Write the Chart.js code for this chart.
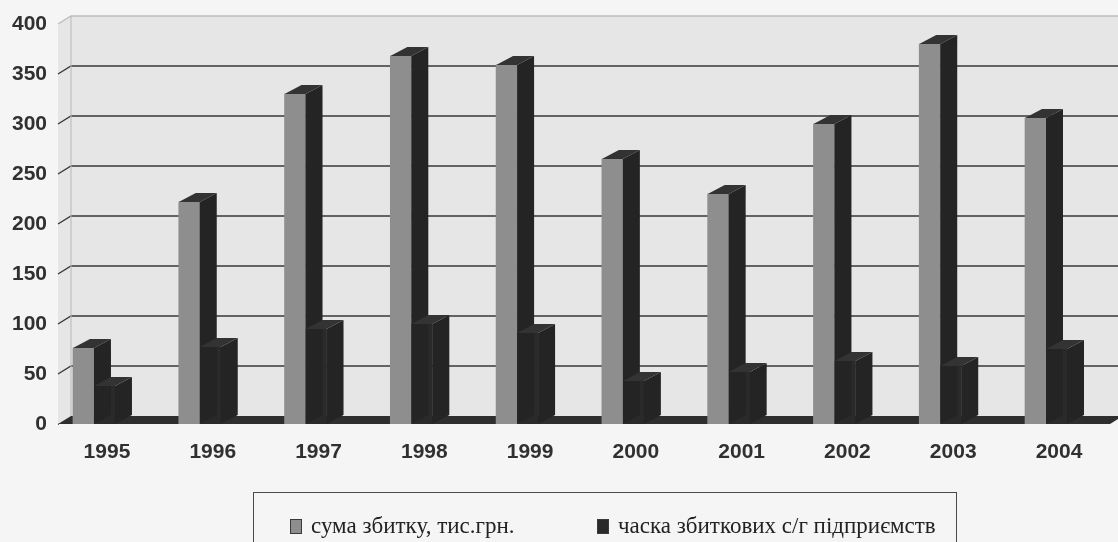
<!DOCTYPE html>
<html lang="uk">
<head>
<meta charset="utf-8">
<title>Збитки с/г підприємств, 1995-2004</title>
<script src="https://cdn.jsdelivr.net/npm/chart.js@4.4.1/dist/chart.umd.min.js"></script>
<style>
  body { margin: 0; background: #f5f5f5; overflow: hidden; }
  #quadro { position: relative; width: 1118px; height: 542px; }
  #grafico { position: absolute; left: 0; top: 0; }
  #legenda {
    position: absolute; left: 253px; top: 492px; width: 704px; height: 80px;
    border: 1px solid #4a4a4a; box-sizing: border-box;
  }
  .item_legenda {
    position: absolute; top: 20px; display: flex; align-items: center;
    font: 23px "Liberation Serif", serif; color: #222; line-height: 26px; white-space: nowrap;
  }
  .item_legenda:nth-child(1) { left: 36px; }
  .item_legenda:nth-child(2) { left: 343px; }
  .caixa_cor { width: 12px; height: 15px; margin-right: 9px; box-sizing: border-box; }
</style>
</head>
<body>
<div id="quadro">
  <canvas id="grafico" width="1118" height="542"></canvas>
  <div id="legenda"></div>
</div>
<script>
// dados
const anos = ["1995", "1996", "1997", "1998", "1999", "2000", "2001", "2002", "2003", "2004"];
const sumaZbytku = [76, 222, 330, 368, 359, 265, 230, 300, 380, 306];
const chastkaZbytkovykh = [38, 77, 95, 100, 91, 43, 52, 63, 58, 75];
const marcasY = [0, 50, 100, 150, 200, 250, 300, 350, 400];

const nomeSerie1 = "сума збитку, тис.грн.";
const nomeSerie2 = "часка збиткових с/г підприємств";

//profundidade do efeito 3D
const PROF_X = 13, PROF_Y = 8;
const BARRA_X = 17, BARRA_Y = 9;

//paredes, chão e linhas de grade em perspectiva
const cena3d = {
  id: "cena3d",
  beforeDatasetsDraw(chart) {
    const { ctx, chartArea } = chart;
    const { left, right, bottom } = chartArea;
    const y = chart.scales.y;
    const topo = y.getPixelForValue(400);

    ctx.save();
    //parede do fundo e parede lateral
    ctx.fillStyle = "#e6e6e6";
    ctx.fillRect(left + PROF_X, topo - PROF_Y, right - left, bottom - topo);
    ctx.beginPath();
    ctx.moveTo(left, topo);
    ctx.lineTo(left + PROF_X, topo - PROF_Y);
    ctx.lineTo(left + PROF_X, bottom - PROF_Y);
    ctx.lineTo(left, bottom);
    ctx.closePath();
    ctx.fill();

    //linhas de grade
    marcasY.forEach((v) => {
      if (v === 0) return;
      const py = y.getPixelForValue(v);
      ctx.strokeStyle = v === 400 ? "#bdbdbd" : "#383838";
      ctx.lineWidth = 1.4;
      ctx.beginPath();
      ctx.moveTo(left, py);
      ctx.lineTo(left + PROF_X, py - PROF_Y);
      ctx.lineTo(right + PROF_X, py - PROF_Y);
      ctx.stroke();
    });

    //aresta de trás da parede lateral
    ctx.strokeStyle = "#b8b8b8";
    ctx.lineWidth = 1;
    ctx.beginPath();
    ctx.moveTo(left + PROF_X, topo - PROF_Y);
    ctx.lineTo(left + PROF_X, bottom - PROF_Y);
    ctx.stroke();

    //chão
    ctx.fillStyle = "#2e2e2e";
    ctx.beginPath();
    ctx.moveTo(left, bottom);
    ctx.lineTo(left + PROF_X, bottom - PROF_Y);
    ctx.lineTo(right + PROF_X, bottom - PROF_Y);
    ctx.lineTo(right, bottom);
    ctx.closePath();
    ctx.fill();
    ctx.restore();
  },

  //lados e tampas das colunas
  afterDatasetsDraw(chart) {
    const { ctx } = chart;
    ctx.save();
    chart.data.datasets.forEach((ds, i) => {
      chart.getDatasetMeta(i).data.forEach((barra) => {
        const { x, y, base, width } = barra.getProps(["x", "y", "base", "width"], true);
        const esq = x - width / 2;
        const dir = x + width / 2;

        ctx.fillStyle = "#242424";
        ctx.beginPath();
        ctx.moveTo(dir, y);
        ctx.lineTo(dir + BARRA_X, y - BARRA_Y);
        ctx.lineTo(dir + BARRA_X, base - BARRA_Y);
        ctx.lineTo(dir, base);
        ctx.closePath();
        ctx.fill();

        ctx.fillStyle = "#333333";
        ctx.beginPath();
        ctx.moveTo(esq, y);
        ctx.lineTo(esq + BARRA_X, y - BARRA_Y);
        ctx.lineTo(dir + BARRA_X, y - BARRA_Y);
        ctx.lineTo(dir, y);
        ctx.closePath();
        ctx.fill();
      });
    });
    ctx.restore();
  },
};

//legenda em html, feita a partir dos itens do próprio chart
const legendaHtml = {
  id: "legendaHtml",
  afterUpdate(chart) {
    const caixa = document.querySelector("#legenda");
    caixa.innerHTML = "";
    const itens = chart.options.plugins.legend.labels.generateLabels(chart);
    itens.forEach((item) => {
      const linha = document.createElement("div");
      linha.className = "item_legenda";
      const cor = document.createElement("span");
      cor.className = "caixa_cor";
      cor.style.background = item.fillStyle;
      cor.style.border = "1px solid #3a3a3a";
      const texto = document.createElement("span");
      texto.textContent = item.text;
      linha.appendChild(cor);
      linha.appendChild(texto);
      caixa.appendChild(linha);
    });
  },
};

const fonteEixo = { family: "'Liberation Sans', Arial, sans-serif", size: 21, weight: "bold" };

function criarGrafico(id) {
  return new Chart(document.getElementById(id), {
    type: "bar",
    data: {
      datasets: [
        {
          label: nomeSerie1,
          data: anos.map((a, i) => ({ x: i, y: sumaZbytku[i] })),
          backgroundColor: "#8e8e8e",
          borderWidth: 0,
        },
        {
          label: nomeSerie2,
          data: anos.map((a, i) => ({ x: i, y: chastkaZbytkovykh[i] })),
          backgroundColor: "#2a2a2a",
          borderWidth: 0,
        },
      ],
    },
    options: {
      responsive: false,
      animation: false,
      barThickness: 21,
      layout: {
        padding: { left: 0, top: 24, right: 8, bottom: 78 },
      },
      plugins: {
        legend: { display: false },
        tooltip: { enabled: false },
      },
      scales: {
        x: {
          type: "linear",
          offset: false,
          min: -0.34,
          max: 9.605,
          afterBuildTicks: (eixo) => {
            eixo.ticks = anos.map((a, i) => ({ value: i }));
          },
          afterFit: (eixo) => {
            eixo.height = 40;
          },
          ticks: {
            autoSkip: false,
            maxRotation: 0,
            padding: 16,
            labelOffset: 13,
            color: "#303030",
            font: fonteEixo,
            callback: (v) => anos[v],
          },
          grid: { display: false, drawTicks: false },
          border: { display: false },
        },
        y: {
          min: 0,
          max: 400,
          afterBuildTicks: (eixo) => {
            eixo.ticks = marcasY.map((v) => ({ value: v }));
          },
          afterFit: (eixo) => {
            eixo.width = 58;
          },
          ticks: {
            padding: 11,
            color: "#303030",
            font: fonteEixo,
          },
          grid: { display: false, drawTicks: false },
          border: { display: true, color: "#555555", width: 1 },
        },
      },
    },
    plugins: [cena3d, legendaHtml],
  });
}

const grafico = criarGrafico("grafico");
</script>
</body>
</html>
